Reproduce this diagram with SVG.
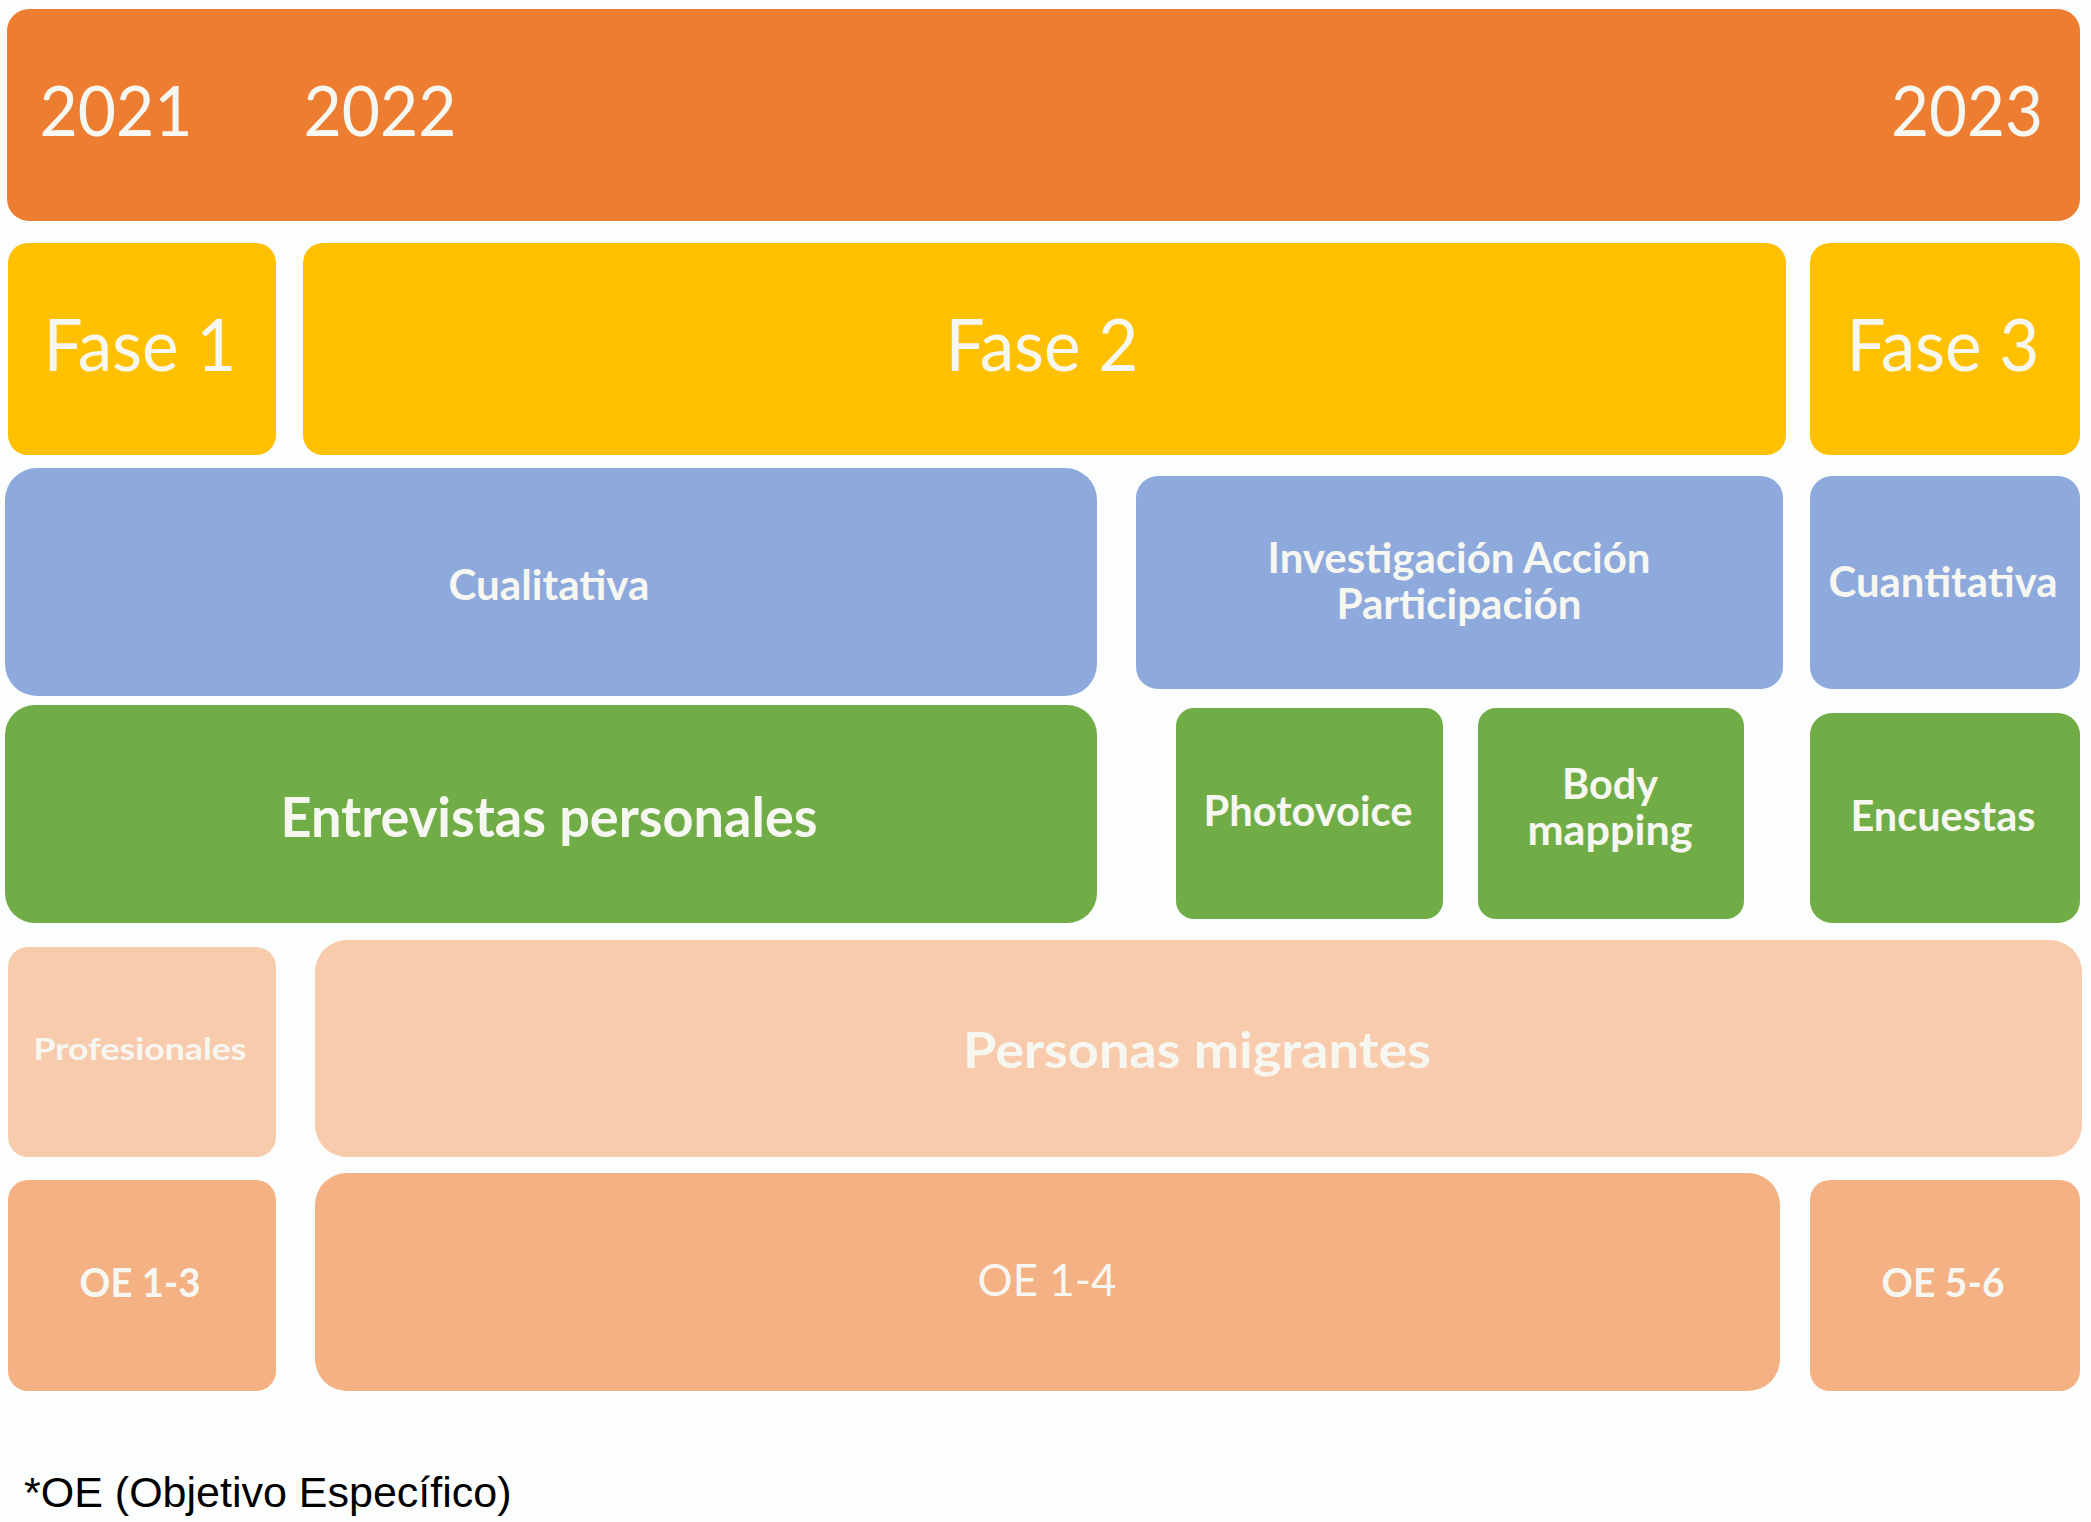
<svg xmlns="http://www.w3.org/2000/svg" width="2091" height="1522" viewBox="0 0 2091 1522">
<style>
.lbl{font-family:Lato,"Open Sans","Noto Sans",sans-serif;fill:#F7F7F2;text-anchor:middle}
.b{font-weight:bold}
.orange{fill:#ED7D31}
.yellow{fill:#FFC000}
.blue{fill:#8EA9DB}
.green{fill:#70AD47}
.pink{fill:#F8CBAD}
.salmon{fill:#F4B183}
.note{font-family:"Liberation Sans",Arial,sans-serif;fill:#000;font-size:43px}
</style>
<rect width="2091" height="1522" fill="#FCFEFD"/>
<g id="years">
<rect class="orange" x="7" y="9" width="2073" height="212" rx="22"/>
<text class="lbl" x="116" y="136" font-size="70" textLength="153" lengthAdjust="spacingAndGlyphs">2021</text>
<text class="lbl" x="380" y="136" font-size="70" textLength="153" lengthAdjust="spacingAndGlyphs">2022</text>
<text class="lbl" x="1967" y="136" font-size="70" textLength="152" lengthAdjust="spacingAndGlyphs">2023</text>
</g>
<g id="fase1">
<rect class="yellow" x="8" y="243" width="268" height="212" rx="20"/>
<text class="lbl" x="140" y="371" font-size="72" textLength="193" lengthAdjust="spacingAndGlyphs">Fase 1</text>
</g>
<g id="fase2">
<rect class="yellow" x="303" y="243" width="1483" height="212" rx="20"/>
<text class="lbl" x="1042" y="371" font-size="72" textLength="193" lengthAdjust="spacingAndGlyphs">Fase 2</text>
</g>
<g id="fase3">
<rect class="yellow" x="1810" y="243" width="270" height="212" rx="20"/>
<text class="lbl" x="1943" y="371" font-size="72" textLength="193" lengthAdjust="spacingAndGlyphs">Fase 3</text>
</g>
<g id="cualitativa">
<rect class="blue" x="5" y="468" width="1092" height="228" rx="32"/>
<text class="lbl b" x="549" y="600" font-size="42" textLength="201" lengthAdjust="spacingAndGlyphs">Cualitativa</text>
</g>
<g id="iap">
<rect class="blue" x="1136" y="476" width="647" height="213" rx="22"/>
<text class="lbl b" x="1459" y="573" font-size="42" textLength="383" lengthAdjust="spacingAndGlyphs">Investigación Acción</text>
<text class="lbl b" x="1459" y="619" font-size="42" textLength="245" lengthAdjust="spacingAndGlyphs">Participación</text>
</g>
<g id="cuantitativa">
<rect class="blue" x="1810" y="476" width="270" height="213" rx="22"/>
<text class="lbl b" x="1943" y="597" font-size="42" textLength="229" lengthAdjust="spacingAndGlyphs">Cuantitativa</text>
</g>
<g id="entrevistas">
<rect class="green" x="5" y="705" width="1092" height="218" rx="30"/>
<text class="lbl b" x="549" y="837" font-size="56" textLength="537" lengthAdjust="spacingAndGlyphs">Entrevistas personales</text>
</g>
<g id="photovoice">
<rect class="green" x="1176" y="708" width="267" height="211" rx="18"/>
<text class="lbl b" x="1308" y="826" font-size="42" textLength="209" lengthAdjust="spacingAndGlyphs">Photovoice</text>
</g>
<g id="bodymapping">
<rect class="green" x="1478" y="708" width="266" height="211" rx="18"/>
<text class="lbl b" x="1610" y="799" font-size="42" textLength="96" lengthAdjust="spacingAndGlyphs">Body</text>
<text class="lbl b" x="1610" y="845" font-size="42" textLength="165" lengthAdjust="spacingAndGlyphs">mapping</text>
</g>
<g id="encuestas">
<rect class="green" x="1810" y="713" width="270" height="210" rx="22"/>
<text class="lbl b" x="1943" y="831" font-size="42" textLength="185" lengthAdjust="spacingAndGlyphs">Encuestas</text>
</g>
<g id="profesionales">
<rect class="pink" x="8" y="947" width="268" height="210" rx="20"/>
<text class="lbl b" x="140" y="1060" font-size="31" textLength="213" lengthAdjust="spacingAndGlyphs">Profesionales</text>
</g>
<g id="migrantes">
<rect class="pink" x="315" y="940" width="1767" height="217" rx="32"/>
<text class="lbl b" x="1197" y="1068" font-size="50" textLength="468" lengthAdjust="spacingAndGlyphs">Personas migrantes</text>
</g>
<g id="oe13">
<rect class="salmon" x="8" y="1180" width="268" height="211" rx="20"/>
<text class="lbl b" x="140" y="1297" font-size="40" textLength="121" lengthAdjust="spacingAndGlyphs">OE 1-3</text>
</g>
<g id="oe14">
<rect class="salmon" x="315" y="1173" width="1465" height="218" rx="32"/>
<text class="lbl" x="1047" y="1296" font-size="44" textLength="139" lengthAdjust="spacingAndGlyphs">OE 1-4</text>
</g>
<g id="oe56">
<rect class="salmon" x="1810" y="1180" width="270" height="211" rx="20"/>
<text class="lbl b" x="1943" y="1297" font-size="40" textLength="123" lengthAdjust="spacingAndGlyphs">OE 5-6</text>
</g>
<g id="connectors"/>
<text class="note" x="24" y="1507">*OE (Objetivo Específico)</text>
</svg>
